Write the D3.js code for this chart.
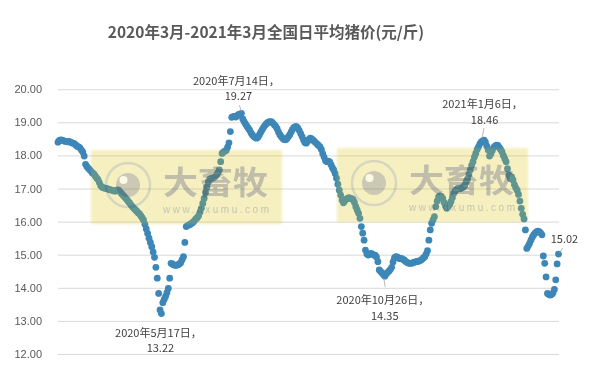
<!DOCTYPE html>
<html>
<head>
<meta charset="utf-8">
<script src="https://cdn.jsdelivr.net/npm/d3@7"></script>
<style>
body { margin: 0; background: #fff; }
svg { display: block; font-family: "Noto Sans CJK SC", "Noto Sans", sans-serif; }
</style>
</head>
<body>
<svg id="chart" width="594" height="378"></svg>
<script>
// daily average pig price, one value per day from startDate
var startDate = "2020-03-03";
var prices = [
  18.40,18.45,18.47,18.46,18.44,18.43,18.42,18.41,18.42,18.40,
  18.38,18.37,18.35,18.31,18.27,18.26,18.22,18.16,18.10,17.98,
  17.73,17.66,17.61,17.57,17.52,17.47,17.44,17.38,17.32,17.27,
  17.18,17.08,17.04,17.02,17.01,17.00,16.99,16.97,16.96,16.95,
  16.94,16.92,16.93,16.96,16.95,16.90,16.85,16.80,16.76,16.71,
  16.66,16.61,16.56,16.50,16.45,16.40,16.36,16.32,16.27,16.24,
  16.18,16.12,16.05,15.92,15.78,15.64,15.50,15.37,15.24,15.08,
  14.92,14.62,14.29,13.83,13.33,13.22,13.55,13.65,13.74,13.85,
  13.98,14.29,14.74,14.72,14.69,14.68,14.68,14.70,14.72,14.76,
  14.85,14.94,15.37,15.85,15.88,15.90,15.92,15.95,15.98,16.03,
  16.08,16.12,16.18,16.28,16.40,16.55,16.70,16.88,17.04,17.20,
  17.28,17.30,17.31,17.33,17.36,17.41,17.48,17.56,17.81,18.06,
  18.10,18.13,18.15,18.25,18.38,18.72,19.15,19.17,19.18,19.16,
  19.20,19.24,19.22,19.27,19.10,19.02,18.95,18.88,18.82,18.76,
  18.68,18.62,18.57,18.54,18.52,18.55,18.62,18.70,18.77,18.84,
  18.90,18.95,18.99,19.01,19.02,19.01,18.97,18.92,18.87,18.80,
  18.70,18.62,18.56,18.51,18.48,18.47,18.50,18.56,18.62,18.70,
  18.78,18.84,18.87,18.87,18.82,18.75,18.66,18.57,18.47,18.39,
  18.37,18.42,18.48,18.52,18.50,18.46,18.42,18.38,18.34,18.30,
  18.26,18.18,18.05,17.95,17.84,17.81,17.83,17.80,17.72,17.63,
  17.56,17.45,17.31,17.13,16.95,16.80,16.65,16.57,16.62,16.68,
  16.70,16.72,16.70,16.69,16.66,16.58,16.45,16.35,16.25,16.10,
  15.85,15.65,15.44,15.14,15.02,14.99,15.02,15.04,15.02,14.99,
  14.99,14.93,14.79,14.54,14.49,14.45,14.40,14.35,14.42,14.46,
  14.50,14.55,14.62,14.78,14.90,14.94,14.93,14.90,14.88,14.89,
  14.86,14.84,14.80,14.77,14.75,14.74,14.74,14.75,14.77,14.78,
  14.79,14.80,14.81,14.83,14.86,14.90,14.94,15.02,15.12,15.44,
  15.75,15.95,16.05,16.15,16.45,16.62,16.75,16.78,16.76,16.70,
  16.58,16.47,16.40,16.45,16.52,16.60,16.72,16.85,16.92,16.97,
  17.00,17.01,17.00,17.02,17.04,17.10,17.20,17.28,17.42,17.56,
  17.70,17.81,17.95,18.06,18.18,18.26,18.35,18.41,18.44,18.46,
  18.40,18.28,18.16,17.98,18.05,18.15,18.24,18.28,18.31,18.30,
  18.24,18.18,18.11,18.00,17.90,17.81,17.60,17.40,17.30,17.35,
  17.26,17.12,17.02,16.95,16.82,16.62,16.40,16.22,16.08,15.75,
  15.19,15.26,15.34,15.44,15.53,15.60,15.65,15.69,15.71,15.70,
  15.66,15.60,14.96,14.74,14.33,13.83,13.80,13.78,13.80,13.84,
  13.95,14.24,14.72,15.02
];
var yTicks = [12, 13, 14, 15, 16, 17, 18, 19, 20];
var calloutDates = ["2020-05-17", "2020-07-14", "2020-10-26", "2021-01-06", "2021-03-01"];
var calloutTexts = ["2020年5月17日，", "2020年7月14日，", "2020年10月26日，", "2021年1月6日，", ""];

var width = 594, height = 378;
var svg = d3.select("#chart");
var parse = d3.timeParse("%Y-%m-%d");
var day0 = parse(startDate);

var data = prices.map(function(v, i) {
    return { date: d3.timeDay.offset(day0, i), value: v };
});

var x = d3.scaleTime()
    .domain(d3.extent(data, function(d) { return d.date; }))
    .range([58, 558.5]);
var y = d3.scaleLinear()
    .domain([12, 20])
    .range([354, 89.2]);

// title
svg.append("text")
    .attr("x", 266)
    .attr("y", 38)
    .attr("text-anchor", "middle")
    .style("font-size", "15.5px")
    .style("font-weight", "bold")
    .style("fill", "#595959")
    .text("2020年3月-2021年3月全国日平均猪价(元/斤)");

// gridlines + y labels
var yAxis = d3.axisLeft(y)
    .tickValues(yTicks)
    .tickSize(-501)
    .tickPadding(16)
    .tickFormat(d3.format(".2f"));
var ga = svg.append("g")
    .attr("transform", "translate(58,0)")
    .call(yAxis);
ga.select(".domain").remove();
ga.selectAll(".tick line").attr("stroke", "#d9d9d9");
ga.selectAll(".tick text")
    .style("font-size", "11px")
    .style("fill", "#595959");

// points
svg.append("g").selectAll("circle")
    .data(data)
    .enter().append("circle")
    .attr("cx", function(d) { return x(d.date); })
    .attr("cy", function(d) { return y(d.value); })
    .attr("r", 3.4)
    .style("fill", "#3d87b8");

// watermarks: a multiplied layer plus a thin yellow veil on top
var defs = svg.append("defs");
defs.append("filter").attr("id", "soft")
    .attr("x", "-10%").attr("y", "-10%").attr("width", "120%").attr("height", "120%")
    .append("feGaussianBlur").attr("stdDeviation", 1.2);

function watermark(x0, y0) {
    var g = svg.append("g")
        .attr("transform", "translate(" + x0 + "," + y0 + ")")
        .style("mix-blend-mode", "multiply");
    g.append("rect")
        .attr("width", 191)
        .attr("height", 74)
        .attr("filter", "url(#soft)")
        .style("fill", "#f8f3d3");
    g.append("circle")
        .attr("cx", 37).attr("cy", 35).attr("r", 22)
        .style("fill", "none")
        .style("stroke", "#d2d2d2")
        .style("stroke-width", 2.5);
    g.append("circle")
        .attr("cx", 37).attr("cy", 35).attr("r", 12)
        .style("fill", "#c2c2c4");
    g.append("circle")
        .attr("cx", 32.5).attr("cy", 30).attr("r", 4)
        .style("fill", "#ffffff");
    g.append("text")
        .attr("x", 72).attr("y", 44)
        .attr("textLength", 105)
        .attr("lengthAdjust", "spacingAndGlyphs")
        .style("font-size", "32px")
        .style("font-weight", "bold")
        .style("fill", "#b4b4b8")
        .text("大畜牧");
    g.append("text")
        .attr("x", 72).attr("y", 63)
        .attr("textLength", 106)
        .attr("lengthAdjust", "spacing")
        .style("font-family", "'Liberation Sans', sans-serif")
        .style("font-size", "10px")
        .style("fill", "#bcbcc0")
        .text("www.dxumu.com");
    svg.append("rect")
        .attr("x", x0).attr("y", y0)
        .attr("width", 191)
        .attr("height", 74)
        .attr("filter", "url(#soft)")
        .style("fill", "#f0e678")
        .style("opacity", 0.2);
}
watermark(91, 150);
watermark(337, 148);

// callout labels: [dx, dy line1, dy line2, leader x1,y1,x2,y2] relative to point
var calloutPos = [
    [-3, 18, 33, null],
    [-5, -33, -18, [-2, -8, 0, -2]],
    [-2, 23, 39, [-1, 2, 0.5, 11]],
    [-1.5, -37, -21, [0, -12, -2, -2]],
    [4, 0, -16, [4, -6, 1, -1]]
];
var lab = svg.append("g")
    .style("font-size", "11px")
    .style("fill", "#404040");
calloutDates.forEach(function(ds, i) {
    var dt = parse(ds);
    var pt = data.find(function(d) { return +d.date === +dt; });
    var px = x(pt.date), py = y(pt.value);
    var p = calloutPos[i];
    if (p[3]) {
        svg.append("line")
            .attr("x1", px + p[3][0]).attr("y1", py + p[3][1])
            .attr("x2", px + p[3][2]).attr("y2", py + p[3][3])
            .style("stroke", "#a6a6a6")
            .style("stroke-width", 0.8);
    }
    if (calloutTexts[i]) {
        lab.append("text")
            .attr("x", px + p[0]).attr("y", py + p[1])
            .attr("text-anchor", "middle")
            .attr("dominant-baseline", "central")
            .text(calloutTexts[i]);
    }
    lab.append("text")
        .attr("x", px + p[0] + 2).attr("y", py + p[2])
        .attr("text-anchor", "middle")
        .attr("dominant-baseline", "central")
        .text(d3.format(".2f")(pt.value));
});
</script>
</body>
</html>
